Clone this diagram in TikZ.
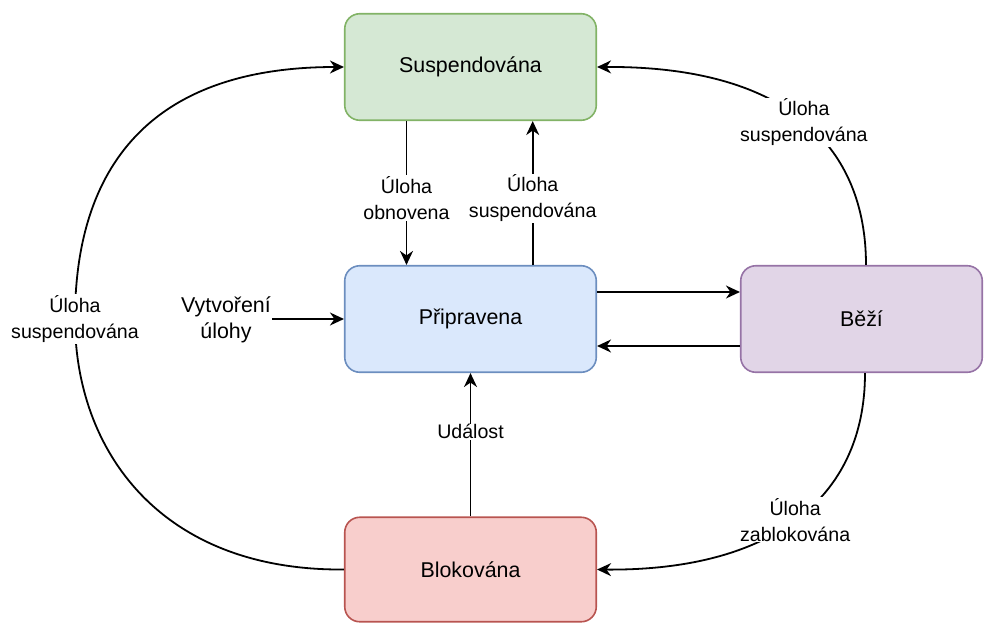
\documentclass[tikz,border=0pt]{standalone}
\usepackage{fontspec}
\setmainfont{Liberation Sans}
\usetikzlibrary{arrows.meta}
\definecolor{gfill}{HTML}{D5E8D4}
\definecolor{gline}{HTML}{82B366}
\definecolor{bfill}{HTML}{DAE8FC}
\definecolor{bline}{HTML}{6C8EBF}
\definecolor{pfill}{HTML}{E1D5E7}
\definecolor{pline}{HTML}{9673A6}
\definecolor{rfill}{HTML}{F8CECC}
\definecolor{rline}{HTML}{B85450}
\begin{document}
\begin{tikzpicture}[x=1pt,y=-1pt,
  state/.style={draw, rounded corners=15pt, line width=1.6pt, minimum width=251.5pt, minimum height=106.5pt, inner sep=0pt, font=\fontsize{21.4}{26}\selectfont},
  arr/.style={line width=1.8pt, -{Stealth[length=14pt,width=13pt,inset=4.5pt]}},
  lbl/.style={fill=white, align=center, inner sep=1pt, font=\fontsize{19.6}{26}\selectfont},
  plain/.style={align=center, inner sep=1pt, font=\fontsize{21.4}{26}\selectfont}]
\useasboundingbox (0,0) rectangle (984,623);
\node[state, fill=gfill, draw=gline] (susp) at (470.5,67) {Suspendována};
\node[state, fill=bfill, draw=bline] (pri) at (470.5,319) {Připravena};
\node[state, fill=pfill, draw=pline, minimum width=241.5pt] (bezi) at (861.5,319) {Běží};
\node[state, fill=rfill, draw=rline, minimum height=104.5pt] (blok) at (470.5,569.5) {Blokována};
\node[plain] (vyt) at (226,320) {Vytvoření\\úlohy};
\coordinate (xa) at (406.5,0);
\coordinate (xb) at (532.7,0);
\coordinate (ya) at (0,292);
\coordinate (yb) at (0,346);
\coordinate (xr) at (866,0);
\coordinate (xs) at (865,0);
\coordinate (lm) at (75,319);
% vertical edges
\draw[arr] (susp.south -| xa) -- node[lbl, pos=0.535] {Úloha\\obnovena} (pri.north -| xa);
\draw[arr] (pri.north -| xb) -- node[lbl, pos=0.465] {Úloha\\suspendována} (susp.south -| xb);
\draw[arr] (blok.north) -- node[lbl, pos=0.59] {Událost} (pri.south);
% horizontal
\draw[arr] (vyt.east |- pri.west) -- (pri.west);
\draw[arr] (pri.east |- ya) -- (bezi.west |- ya);
\draw[arr] (bezi.west |- yb) -- (pri.east |- yb);
% curves
\draw[arr] (bezi.north -| xr) .. controls (866,149) and (790,66) .. node[lbl, pos=0.5] {Úloha\\suspendována} (susp.east);
\draw[arr] (bezi.south -| xs) .. controls (865,501) and (768,571) .. node[lbl, pos=0.5] {Úloha\\zablokována} (blok.east);
\draw[arr] (blok.west) .. controls (160,571) and (75,450) .. (lm) node[lbl] {Úloha\\suspendována} .. controls (75,190) and (130,67) .. (susp.west);
\end{tikzpicture}
\end{document}
